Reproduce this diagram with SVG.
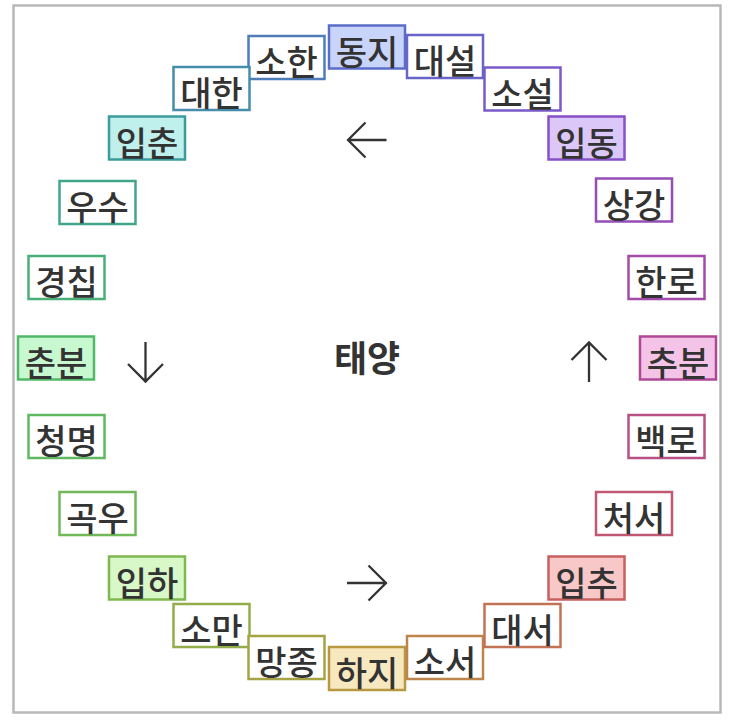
<svg xmlns="http://www.w3.org/2000/svg" width="738" height="720" viewBox="0 0 738 720">
<style>
.n rect{stroke-width:2.5}
.n text{font-family:"Noto Sans CJK KR","Noto Sans",sans-serif;font-size:34px;font-weight:500;fill:#333;text-anchor:middle}
.c path{fill:none;stroke:#333;stroke-width:2.3}
.sun{font-family:"Noto Sans CJK KR","Noto Sans",sans-serif;font-size:36px;font-weight:bold;fill:#333;text-anchor:middle}
</style>
<rect x="0" y="0" width="738" height="720" fill="#fff"/>
<rect x="13.5" y="5.5" width="707" height="707" fill="#fff" stroke="#b8b8b8" stroke-width="2.5"/>
<g id="connectors" class="c">
<path d="M348 140H386.5M365.5 122.5L348 140L365.5 157.5"/>
<path d="M145.5 342V381.5M128 364L145.5 381.5L163 364"/>
<path d="M589 382V342.5M571.5 360L589 342.5L606.5 360"/>
<path d="M347 583H386M368.5 565.5L386 583L368.5 600.5"/>
</g>
<g id="sun"><text class="sun" x="367" y="372">태양</text></g>
<g id="n00" class="n"><rect x="329" y="25.5" width="76" height="43" fill="#c8d4fa" stroke="#5a6ec8"/><text x="367" y="64.5">동지</text></g>
<g id="n01" class="n"><rect x="248.5" y="36" width="76" height="43" fill="#fff" stroke="#4f7db9"/><text x="286.5" y="75">소한</text></g>
<g id="n02" class="n"><rect x="173.5" y="67" width="76" height="43" fill="#fff" stroke="#458dab"/><text x="211.5" y="106">대한</text></g>
<g id="n03" class="n"><rect x="109" y="116.5" width="76" height="43" fill="#bff0ec" stroke="#3a9c9c"/><text x="147" y="155.5">입춘</text></g>
<g id="n04" class="n"><rect x="59.5" y="181" width="76" height="43" fill="#fff" stroke="#41a58b"/><text x="97.5" y="220">우수</text></g>
<g id="n05" class="n"><rect x="28.5" y="256" width="76" height="43" fill="#fff" stroke="#49af79"/><text x="66.5" y="295">경칩</text></g>
<g id="n06" class="n"><rect x="18" y="336.5" width="76" height="43" fill="#c8f8d0" stroke="#50b868"/><text x="56" y="375.5">춘분</text></g>
<g id="n07" class="n"><rect x="28.5" y="415" width="76" height="43" fill="#fff" stroke="#60b860"/><text x="66.5" y="454">청명</text></g>
<g id="n08" class="n"><rect x="59.5" y="492" width="76" height="43" fill="#fff" stroke="#70b858"/><text x="97.5" y="531">곡우</text></g>
<g id="n09" class="n"><rect x="109" y="556.5" width="76" height="43" fill="#d8f8c8" stroke="#80b850"/><text x="147" y="595.5">입하</text></g>
<g id="n10" class="n"><rect x="173.5" y="604" width="76" height="43" fill="#fff" stroke="#93ad4b"/><text x="211.5" y="643">소만</text></g>
<g id="n11" class="n"><rect x="248.5" y="636" width="76" height="43" fill="#fff" stroke="#a5a345"/><text x="286.5" y="675">망종</text></g>
<g id="n12" class="n"><rect x="329" y="647" width="76" height="43" fill="#f8e8c0" stroke="#b89840"/><text x="367" y="686">하지</text></g>
<g id="n13" class="n"><rect x="407" y="636" width="76" height="43" fill="#fff" stroke="#bd854b"/><text x="445" y="675">소서</text></g>
<g id="n14" class="n"><rect x="484.5" y="604" width="76" height="43" fill="#fff" stroke="#c37355"/><text x="522.5" y="643">대서</text></g>
<g id="n15" class="n"><rect x="548.5" y="556.5" width="76" height="43" fill="#f8c8c8" stroke="#c86060"/><text x="586.5" y="595.5">입추</text></g>
<g id="n16" class="n"><rect x="596" y="492" width="76" height="43" fill="#fff" stroke="#c05873"/><text x="634" y="531">처서</text></g>
<g id="n17" class="n"><rect x="628.5" y="415" width="76" height="43" fill="#fff" stroke="#b85085"/><text x="666.5" y="454">백로</text></g>
<g id="n18" class="n"><rect x="640" y="336.5" width="76" height="43" fill="#f4c4e8" stroke="#b04898"/><text x="678" y="375.5">추분</text></g>
<g id="n19" class="n"><rect x="628.5" y="256" width="76" height="43" fill="#fff" stroke="#a34ba8"/><text x="666.5" y="295">한로</text></g>
<g id="n20" class="n"><rect x="596" y="178.5" width="76" height="43" fill="#fff" stroke="#954db8"/><text x="634" y="217.5">상강</text></g>
<g id="n21" class="n"><rect x="548.5" y="116.5" width="76" height="43" fill="#dcc8f8" stroke="#8850c8"/><text x="586.5" y="155.5">입동</text></g>
<g id="n22" class="n"><rect x="484.5" y="67.5" width="76" height="43" fill="#fff" stroke="#795ac8"/><text x="522.5" y="106.5">소설</text></g>
<g id="n23" class="n"><rect x="407" y="35" width="76" height="43" fill="#fff" stroke="#6964c8"/><text x="445" y="74">대설</text></g>
</svg>
